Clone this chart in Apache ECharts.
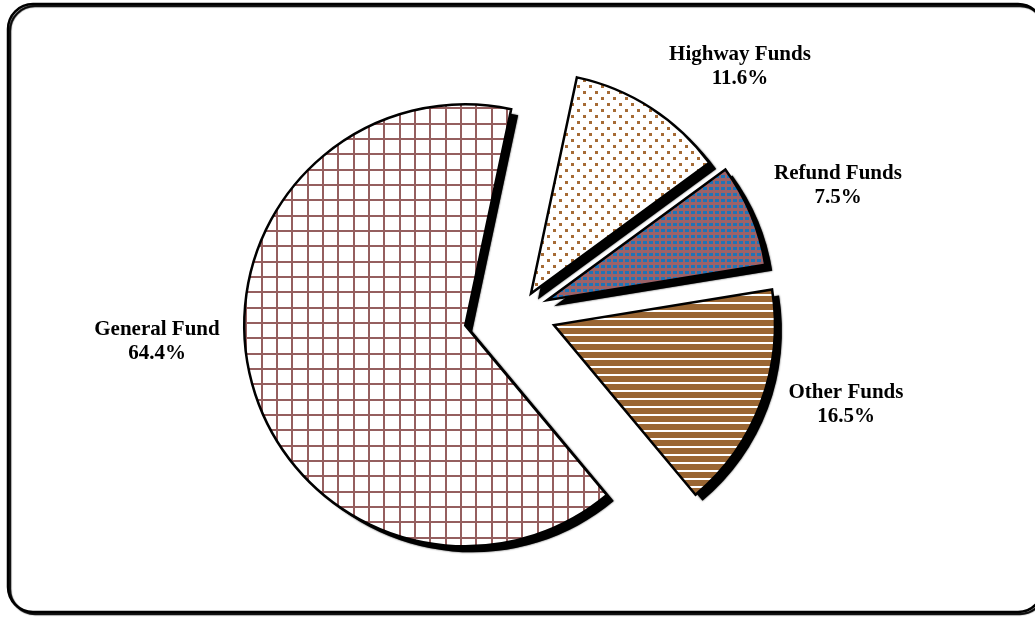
<!DOCTYPE html>
<html>
<head>
<meta charset="utf-8">
<script src="https://cdn.jsdelivr.net/npm/echarts@6/dist/echarts.min.js"></script>
<style>
  html, body { margin: 0; padding: 0; background: #fff; }
  #chart { width: 1035px; height: 618px; }
</style>
</head>
<body>
<div id="chart"></div>
<script>
// Fund shares, in clockwise order starting just right of 12 o'clock
const categories = ['Highway Funds', 'Refund Funds', 'Other Funds', 'General Fund'];
const shares = [11.6, 7.5, 16.5, 64.4];

// Layout: how far each slice is pulled away from the common pie centre (px)
const explodeDist = [22, 30.5, 37.3, 55.4];
const PIE_CENTER = [519, 312];
const PIE_RADIUS = 221;
const START_ANGLE = 78;          // ECharts degrees, 90 = 12 o'clock
const SHADOW_SHIFT = [7, 6];     // drop shadow offset (px)
const LABEL_POS = [[740, 67], [838, 186], [846, 405], [157, 342]];

function makeTile(w, h, draw) {
  const c = document.createElement('canvas');
  c.width = w; c.height = h;
  draw(c.getContext('2d'), w, h);
  return c;
}

// Fill patterns for each slice
const tiles = [
  // brown dots on white
  makeTile(12, 12, g => {
    g.fillStyle = '#fff'; g.fillRect(0, 0, 12, 12);
    g.fillStyle = '#a66b35';
    g.fillRect(1, 1, 3, 3); g.fillRect(7, 7, 3, 3);
  }),
  // fine blue dots on red-brown
  makeTile(6, 6, g => {
    g.fillStyle = '#9c6268'; g.fillRect(0, 0, 6, 6);
    g.fillStyle = '#1e74b8'; g.fillRect(1, 1, 4, 3);
  }),
  // brown with thin white horizontal stripes
  makeTile(8, 8, g => {
    g.fillStyle = '#9a6633'; g.fillRect(0, 0, 8, 8);
    g.fillStyle = '#fff'; g.fillRect(0, 6, 8, 2);
  }),
  // open grid
  makeTile(46, 46, g => {
    g.fillStyle = '#fff'; g.fillRect(0, 0, 46, 46);
    g.fillStyle = '#955f5f';
    [0, 15, 31].forEach(p => { g.fillRect(p, 0, 2, 46); g.fillRect(0, p, 46, 2); });
  })
];

const total = shares.reduce((a, b) => a + b, 0);

function sliceCenter(i) {
  let before = 0;
  for (let j = 0; j < i; j++) before += shares[j];
  const midDeg = (90 - START_ANGLE) + (before + shares[i] / 2) / total * 360;
  const rad = midDeg * Math.PI / 180;
  return [PIE_CENTER[0] + explodeDist[i] * Math.sin(rad),
          PIE_CENTER[1] - explodeDist[i] * Math.cos(rad)];
}

const FONT = '"Liberation Serif", "Times New Roman", serif';
const labelStyle = {
  show: true,
  position: 'outside',
  overflow: 'none',
  fontFamily: FONT, fontWeight: 'bold', fontSize: 21, lineHeight: 24, color: '#000',
  formatter: p => '{t|' + p.name + '}\n{t|' + p.value.toFixed(1) + '%}',
  rich: {
    t: { fontFamily: FONT, fontWeight: 'bold', fontSize: 21, lineHeight: 24, color: '#000', align: 'center' }
  }
};

const hiddenItem = {
  itemStyle: { color: 'rgba(0,0,0,0)', borderWidth: 0, shadowColor: 'rgba(0,0,0,0)' },
  label: { show: false }
};

function basePie(center, z) {
  return {
    type: 'pie',
    center,
    radius: PIE_RADIUS,
    startAngle: START_ANGLE,
    clockwise: true,
    avoidLabelOverlap: false,
    silent: true,
    z,
    labelLine: { show: false },
    emphasis: { disabled: true }
  };
}

// Drop shadows: a black copy of each slice, shifted down-right, drawn underneath
const shadowSeries = categories.map((cat, i) => {
  const c = sliceCenter(i);
  return Object.assign(basePie([c[0] + SHADOW_SHIFT[0], c[1] + SHADOW_SHIFT[1]], 1), {
    label: { show: false },
    data: categories.map((name, j) => Object.assign({ name, value: shares[j] }, j === i ? {
      itemStyle: { color: '#000', borderWidth: 0, shadowColor: 'rgba(0,0,0,0.8)', shadowBlur: 2 }
    } : hiddenItem))
  });
});

// One series per slice so every slice can be pulled out by its own distance
const sliceSeries = categories.map((cat, i) => Object.assign(basePie(sliceCenter(i), 2), {
  label: labelStyle,
  labelLayout: () => ({ x: LABEL_POS[i][0], y: LABEL_POS[i][1], align: 'center', verticalAlign: 'middle' }),
  data: categories.map((name, j) => Object.assign({ name, value: shares[j] }, j === i ? {
    itemStyle: {
      color: { image: tiles[i], repeat: 'repeat' },
      borderColor: '#000', borderWidth: 2.5, borderJoin: 'miter'
    }
  } : hiddenItem))
}));

const chart = echarts.init(document.getElementById('chart'), null, { renderer: 'canvas' });
chart.setOption({
  animation: false,
  backgroundColor: '#fff',
  graphic: [{
    type: 'rect',
    z: 0,
    silent: true,
    shape: { x: 8, y: 4, width: 1035, height: 608, r: 25 },
    style: {
      fill: 'none', stroke: '#000', lineWidth: 2.5,
      shadowColor: '#000', shadowBlur: 1, shadowOffsetX: 2, shadowOffsetY: 2
    }
  }],
  series: shadowSeries.concat(sliceSeries)
});
</script>
</body>
</html>
